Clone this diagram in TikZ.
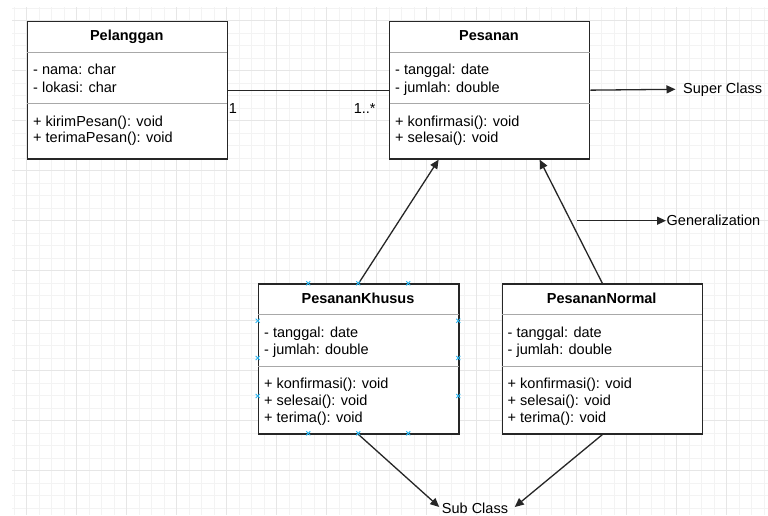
\documentclass[tikz,border=0pt]{standalone}
\usepackage{fontspec}
\setmainfont{Liberation Sans}
\usetikzlibrary{arrows.meta,calc}
\definecolor{gridminor}{HTML}{F3F3F3}
\definecolor{gridmajor}{HTML}{E6E6E6}
\definecolor{sepcol}{HTML}{A8A8A8}
\definecolor{boxline}{HTML}{262626}
\definecolor{handle}{HTML}{29B6F2}
\begin{document}
\begin{tikzpicture}[x=1pt,y=-1pt,
  font=\fontsize{14.5}{17.5}\selectfont,
  classbox/.style={draw=boxline, line width=1.3pt, fill=white, inner sep=0pt, anchor=north west},
  sepline/.style={draw=sepcol, line width=1pt},
  txt/.style={anchor=base west, inner sep=0pt},
  ttl/.style={anchor=base, inner sep=0pt, font=\fontsize{14.5}{17.5}\selectfont\bfseries},
  conn/.style={draw=boxline, line width=1.3pt},
  arr/.style={conn, -{Triangle[length=9pt,width=8pt]}},
  hmark/.style={draw=handle, line width=0.9pt}
]
\useasboundingbox (0,0) rectangle (768,515);
\fill[white] (0,0) rectangle (768,515);
% grid
\begin{scope}
  \clip (12,7) rectangle (768,515);
  \foreach \i in {0,...,61} \draw[gridminor, line width=1pt] ({14.2+12.5*\i},7) -- ++(0,508);
  \foreach \j in {0,...,41} \draw[gridminor, line width=1pt] (12,{8.2+12.5*\j}) -- ++(756,0);
  \foreach \i in {0,...,14} \draw[gridmajor, line width=1pt] ({26.7+50*\i},7) -- ++(0,508);
  \foreach \j in {0,...,9} \draw[gridmajor, line width=1pt] (12,{20.7+50*\j}) -- ++(756,0);
\end{scope}

% boxes
\node[classbox, minimum width=200pt, minimum height=137.6pt] (pel) at (26.7,20.7) {};
\node[classbox, minimum width=200pt, minimum height=137.6pt] (pes) at (389,20.7) {};
\node[classbox, minimum width=200.6pt, minimum height=150pt] (khu) at (257.7,283.3) {};
\node[classbox, minimum width=200pt, minimum height=150pt] (nor) at (501.7,283.3) {};

% separators
\foreach \b in {pel,pes} {
  \draw[sepline] ($(\b.north west)+(0.7,31.6)$) -- ($(\b.north east)+(-0.7,31.6)$);
  \draw[sepline] ($(\b.north west)+(0.7,82.6)$) -- ($(\b.north east)+(-0.7,82.6)$);
}
\foreach \b in {khu,nor} {
  \draw[sepline] ($(\b.north west)+(0.7,31)$) -- ($(\b.north east)+(-0.7,31)$);
  \draw[sepline] ($(\b.north west)+(0.7,82.7)$) -- ($(\b.north east)+(-0.7,82.7)$);
}

% Pelanggan texts
\node[ttl] (pelT) at (126.7,40.5) {Pelanggan};
\node[txt] (pelA1) at (33,74.6) {- nama: char};
\node[txt] (pelA2) at (33,92.4) {- lokasi: char};
\node[txt] (pelM1) at (33,126) {+ kirimPesan(): void};
\node[txt] (pelM2) at (33,142.4) {+ terimaPesan(): void};

% Pesanan texts
\node[ttl] (pesT) at (489,40.5) {Pesanan};
\node[txt] (pesA1) at (395,74.6) {- tanggal: date};
\node[txt] (pesA2) at (395,92.4) {- jumlah: double};
\node[txt] (pesM1) at (395,126) {+ konfirmasi(): void};
\node[txt] (pesM2) at (395,142.4) {+ selesai(): void};

% PesananKhusus texts
\node[ttl] (khuT) at (358,303) {PesananKhusus};
\node[txt] (khuA1) at (264,337) {- tanggal: date};
\node[txt] (khuA2) at (264,354.6) {- jumlah: double};
\node[txt] (khuM1) at (264,388.6) {+ konfirmasi(): void};
\node[txt] (khuM2) at (264,405.3) {+ selesai(): void};
\node[txt] (khuM3) at (264,422.6) {+ terima(): void};

% PesananNormal texts
\node[ttl] (norT) at (601.7,303) {PesananNormal};
\node[txt] (norA1) at (507.5,337) {- tanggal: date};
\node[txt] (norA2) at (507.5,354.6) {- jumlah: double};
\node[txt] (norM1) at (507.5,388.6) {+ konfirmasi(): void};
\node[txt] (norM2) at (507.5,405.3) {+ selesai(): void};
\node[txt] (norM3) at (507.5,422.6) {+ terima(): void};

% labels
\node[txt] (m1) at (228.6,113.3) {1};
\node[txt] (m2) at (353.6,113.3) {1..*};
\node[anchor=west, inner sep=0pt] (super) at (683,89.3) {Super Class};
\node[anchor=west, inner sep=0pt] (gen) at (666.5,220.7) {Generalization};
\node[inner sep=0pt] (sub) at (475,508) {Sub Class};
\coordinate (g0) at (577,220.7);

% connectors
\draw[conn] (pel.east) -- (pes.west);
\draw[arr] (pes.east) -- ($(super.west)+(-7.5,0)$);
\draw[arr] (g0) -- ($(gen.west)+(-0.5,0)$);
\draw[arr] (khu.north) -- ($(pes.south)+(-51,0)$);
\draw[arr] (nor.north) -- ($(pes.south)+(50,0)$);
\draw[arr] (khu.south) -- ($(sub.west)+(-2.5,-1)$);
\draw[arr] (nor.south) -- ($(sub.east)+(6.5,-1)$);

% selection handles on PesananKhusus
\foreach \p in {(308.3,283.3),(358.3,283.3),(408.3,283.3),(308.3,433.3),(358.3,433.3),(408.3,433.3),
                (257.7,320.7),(257.7,358),(257.7,396),(458.3,320.7),(458.3,358),(458.3,396)} {
  \draw[hmark] \p ++(-2,-2) -- ++(4,4);
  \draw[hmark] \p ++(-2,2) -- ++(4,-4);
}
\end{tikzpicture}
\end{document}
